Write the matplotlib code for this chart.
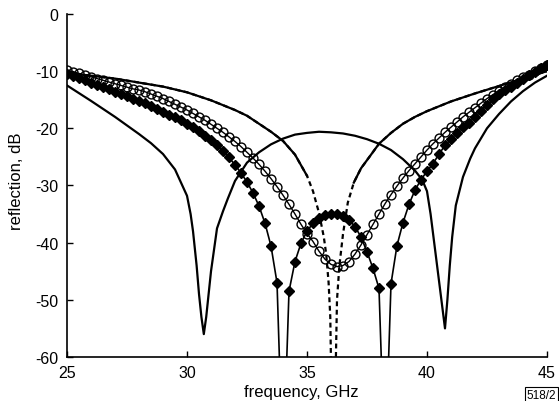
import numpy as np
import matplotlib
matplotlib.use('Agg')
import matplotlib.pyplot as plt

# Set rcParams
sz, fontsz = (5.59, 4.02), 11.5
rcParams = {
    'font.family': ['Liberation Sans', 'DejaVu Sans'],
    'font.size': fontsz,
    'axes.labelsize': 12,
    'xtick.labelsize': fontsz,
    'ytick.labelsize': fontsz,
    'axes.unicode_minus': False,
    'figure.figsize': sz,
    'figure.dpi': 100,
}
plt.rcParams.update(rcParams)

# frequency grid of the marker curves, GHz
freq_m = [25.00, 25.25, 25.50, 25.75, 26.00, 26.25, 26.50, 26.75, 27.00, 27.25,
          27.50, 27.75, 28.00, 28.25, 28.50, 28.75, 29.00, 29.25, 29.50, 29.75,
          30.00, 30.25, 30.50, 30.75, 31.00, 31.25, 31.50, 31.75, 32.00, 32.25,
          32.50, 32.75, 33.00, 33.25, 33.50, 33.75, 34.00, 34.25, 34.50, 34.75,
          35.00, 35.25, 35.50, 35.75, 36.00, 36.25, 36.50, 36.75, 37.00, 37.25,
          37.50, 37.75, 38.00, 38.25, 38.50, 38.75, 39.00, 39.25, 39.50, 39.75,
          40.00, 40.25, 40.50, 40.75, 41.00, 41.25, 41.50, 41.75, 42.00, 42.25,
          42.50, 42.75, 43.00, 43.25, 43.50, 43.75, 44.00, 44.25, 44.50, 44.75,
          45.00]

# open circles
refl_circ = [-9.8, -10.1, -10.4, -10.7, -11.0, -11.3, -11.6, -11.9, -12.2, -12.5,
             -12.8, -13.1, -13.3, -13.6, -14.0, -14.4, -14.8, -15.3, -15.8, -16.3,
             -16.8, -17.4, -18.0, -18.6, -19.3, -20.0, -20.7, -21.5, -22.3, -23.2,
             -24.2, -25.2, -26.3, -27.5, -28.8, -30.2, -31.7, -33.3, -35.0, -36.8,
             -38.4, -39.8, -41.5, -42.9, -43.8, -44.2, -44.0, -43.3, -42.0, -40.4,
             -38.6, -36.8, -35.0, -33.2, -31.6, -30.1, -28.7, -27.4, -26.2, -25.0,
             -23.8, -22.7, -21.7, -20.7, -19.8, -18.9, -18.0, -17.2, -16.4, -15.6,
             -14.8, -14.1, -13.4, -12.8, -12.2, -11.6, -11.1, -10.6, -10.0, -9.5,
             -9.0]

# filled diamonds
refl_diam = [-10.5, -10.8, -11.2, -11.6, -12.0, -12.4, -12.8, -13.2, -13.6, -14.0,
             -14.4, -14.8, -15.2, -15.6, -16.1, -16.6, -17.1, -17.6, -18.1, -18.6,
             -19.2, -19.8, -20.5, -21.3, -22.1, -23.0, -24.0, -25.1, -26.4, -27.8,
             -29.4, -31.3, -33.6, -36.6, -40.6, -47.0, -80.0, -48.5, -43.3, -40.1,
             -38.0, -36.6, -35.7, -35.2, -35.0, -35.0, -35.3, -36.0, -37.2, -39.0,
             -41.6, -44.5, -48.0, -80.0, -47.2, -40.5, -36.5, -33.3, -30.8, -29.0,
             -27.5, -26.2, -24.5, -23.0, -21.9, -20.8, -19.8, -19.0, -18.0, -17.0,
             -15.9, -14.9, -14.0, -13.3, -12.7, -12.0, -11.3, -10.7, -10.1, -9.5,
             -9.0]

# solid curve with two dips
freq_a = [25.0, 26.0, 27.0, 28.0, 28.5, 29.0, 29.5, 29.75, 30.0, 30.15, 30.25, 30.4,
          30.5, 30.6, 30.7, 30.8, 30.9, 31.0, 31.1, 31.25, 31.5, 31.7, 32.0, 32.5,
          33.0, 33.5, 34.0, 34.5, 35.0, 35.5, 36.0, 36.5, 37.0, 37.5, 38.0, 38.5,
          39.0, 39.5, 39.8, 40.0, 40.15, 40.3, 40.45, 40.6, 40.75, 40.85, 40.95,
          41.05, 41.2, 41.5, 41.8, 42.0, 42.5, 43.0, 43.5, 44.0, 44.5, 45.0]
refl_a = [-12.5, -15.2, -18.0, -21.0, -22.6, -24.5, -27.2, -29.5, -31.8, -35.0, -38.0, -44.0,
          -49.0, -53.0, -56.0, -53.0, -49.0, -45.0, -42.0, -37.5, -34.5, -32.3, -29.2, -26.0,
          -24.2, -22.8, -21.8, -21.1, -20.8, -20.6, -20.7, -20.9, -21.3, -21.9, -22.7, -23.8,
          -25.4, -27.4, -29.0, -31.0, -35.0, -40.0, -45.0, -50.0, -55.0, -50.0, -44.0,
          -39.0, -33.5, -28.5, -25.3, -23.5, -20.0, -17.5, -15.3, -13.5, -12.0, -10.8]

# solid curve with the deep null (dashed near the null)
freq_b = [25.0, 26.0, 27.0, 28.0, 29.0, 30.0, 31.0, 32.0, 32.5, 33.0, 33.5, 34.0,
          34.5, 35.0, 35.25, 35.5, 35.7, 35.8, 35.9, 35.97, 36.0, 36.2, 36.25, 36.35,
          36.5, 36.7, 36.95, 37.25, 37.6, 38.0, 38.5, 39.0, 39.5, 40.0, 41.0, 42.0,
          43.0, 44.0, 45.0]
refl_b = [-10.3, -10.8, -11.3, -12.0, -12.7, -13.7, -15.1, -16.8, -17.8, -19.2, -20.6, -22.2,
          -24.6, -28.3, -31.0, -34.8, -39.0, -42.0, -47.0, -53.0, -61.0, -61.0, -50.0, -44.0,
          -38.5, -33.0, -29.5, -27.0, -25.0, -22.7, -20.8, -19.2, -18.0, -17.0, -15.3, -13.9,
          -12.6, -11.3, -10.0]

xticks = [25, 30, 35, 40, 45]
yticks = [0, -10, -20, -30, -40, -50, -60]

fig = plt.figure()
ax = fig.add_axes([0.1199, 0.1095, 0.8586, 0.8532])

# curve B: dashed near the null, solid elsewhere
b = np.array(refl_b)
ax.plot(freq_b, b, color='black', lw=1.6, linestyle=(0, (2.2, 1.6)))
ax.plot(freq_b, np.where(b >= -30, b, np.nan), color='black', lw=1.6)

ax.plot(freq_a, refl_a, color='black', lw=1.6)
ax.plot(freq_m, refl_diam, color='black', lw=1.2, marker='D', markersize=5.0,
        markerfacecolor='black')
ax.plot(freq_m, refl_circ, color='black', lw=1.0, marker='o', markersize=6.4,
        markerfacecolor='none', markeredgewidth=1.0)

ax.set_xlim(25, 45)
ax.set_ylim(-60, 0)
ax.set_xticks(xticks)
ax.set_yticks(yticks)
ax.tick_params(direction='in', length=4, width=1.0)
ax.tick_params(axis='x', pad=6)
ax.tick_params(axis='y', pad=6)
for s in ['top', 'right']:
    ax.spines[s].set_visible(False)
for s in ['left', 'bottom']:
    ax.spines[s].set_linewidth(1.2)

ax.set_xlabel('frequency, GHz')
ax.set_ylabel('reflection, dB')
ax.xaxis.set_label_coords(0.4875, -0.078)
ax.yaxis.set_label_coords(-0.09, 0.516)

fig.text(0.968, 0.016, '518/2', fontsize=8.5, ha='center', va='center',
         bbox=dict(boxstyle='square,pad=0.15', fc='white', ec='black', lw=0.8))

fig.savefig('out.png', dpi=100)
